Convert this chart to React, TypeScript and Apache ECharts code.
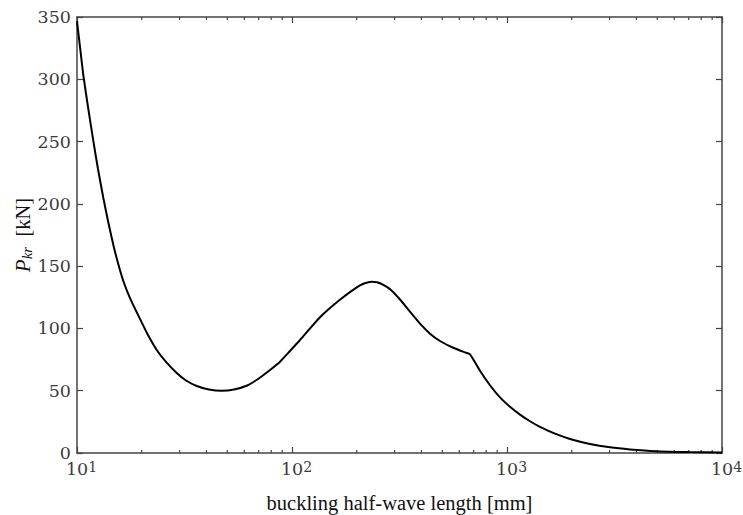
import React, { useEffect, useRef } from "react";
import * as echarts from "echarts";

const curveX = [10, 10.33, 10.7, 11.25, 11.91, 12.52, 13.26, 13.94, 14.76, 15.51, 16.42, 17.64, 19.64, 21.39, 23.49, 25.94, 29.09, 32.14, 36.05, 41.11, 47.1, 53.74, 61.5, 69.49, 79, 88, 97.88, 108.95, 135, 167, 200, 216.2, 235, 248.5, 266, 288.7, 317.9, 353.8, 393.9, 438.5, 488, 543.1, 604.6, 637.9, 672.9, 748.8, 833.4, 927.8, 1032.6, 1149.5, 1279.5, 1424.1, 1672.3, 1963.4, 2432.4, 3013.2, 3733.2, 4932, 7097, 10000];
const curveP = [346.5, 325.9, 303.4, 277.8, 250.5, 228, 204.7, 186.2, 167, 152.5, 138.1, 124.4, 107.6, 94.7, 82.7, 73.1, 64.2, 58.2, 53.8, 51, 50, 51, 54, 59.4, 66.6, 73.3, 81.9, 90.7, 109, 123, 133, 136.1, 137.5, 137.1, 134.9, 130.9, 123.2, 113.4, 103.8, 95.8, 89.9, 85.7, 82.3, 80.8, 79.2, 66, 54.4, 44.6, 37.1, 30.8, 25.5, 21, 15.5, 11.3, 7.3, 4.6, 2.9, 1.45, 0.72, 0.32];
const minorTicks = [20, 30, 40, 50, 60, 70, 80, 90, 200, 300, 400, 500, 600, 700, 800, 900, 2000, 3000, 4000, 5000, 6000, 7000, 8000, 9000];
const yTicks = { min: 0, max: 350, interval: 50 };
const xRange = { min: 10, max: 10000 };
const xTitle = "buckling half-wave length [mm]";

const AX = "#444444";
const LBL = "#3c3c3c";

export default function App() {
  const ref = useRef<HTMLDivElement>(null);
  useEffect(() => {
    const chart = echarts.init(ref.current!, null, { renderer: "svg" });
    const xLabel = {
      margin: 7,
      formatter: (v: number) => `{p|}{b|10}{s|${Math.round(Math.log10(v))}}`,
      rich: {
        p: { width: 9 },
        b: { fontFamily: "DejaVu Serif", fontSize: 17.5, lineHeight: 18, padding: [10, 0, 0, 0], verticalAlign: "bottom", color: LBL },
        s: { fontFamily: "DejaVu Serif", fontSize: 14, lineHeight: 15, verticalAlign: "top", color: LBL },
      },
    };
    const xCommon = {
      type: "log",
      logBase: 10,
      min: xRange.min,
      max: xRange.max,
      axisLine: { show: true, onZero: false, lineStyle: { color: AX, width: 1.5 } },
      axisTick: { show: true, inside: true, length: 6, lineStyle: { color: AX, width: 1.2 } },
      splitLine: { show: false },
      minorTick: { show: false },
    };
    const yCommon = {
      type: "value",
      min: yTicks.min,
      max: yTicks.max,
      interval: yTicks.interval,
      axisLine: { show: true, onZero: false, lineStyle: { color: AX, width: 1.5 } },
      axisTick: { show: true, inside: true, length: 6, lineStyle: { color: AX, width: 1.2 } },
      splitLine: { show: false },
    };
    chart.setOption({
      animation: false,
      backgroundColor: "#ffffff",
      grid: { left: 77, right: 21, top: 17, bottom: 62, containLabel: false, outerBoundsMode: "none" },
      xAxis: [
        {
          ...xCommon,
          position: "bottom",
          axisLabel: xLabel,
          name: xTitle,
          nameLocation: "middle",
          nameGap: 39,
          nameMoveOverlap: false,
          nameTextStyle: { fontFamily: "Liberation Serif", fontSize: 20.5, color: "#111", lineHeight: 22 },
        },
        { ...xCommon, position: "top", axisLabel: { show: false } },
      ],
      yAxis: [
        {
          ...yCommon,
          position: "left",
          axisLabel: { margin: 6, fontFamily: "DejaVu Serif", fontSize: 17.5, color: LBL },
          name: "{p|P}{s|kr}{u|  [kN]}",
          nameLocation: "middle",
          nameRotate: 90,
          nameGap: 43,
          nameMoveOverlap: false,
          nameTextStyle: {
            rich: {
              p: { fontFamily: "Liberation Serif", fontStyle: "italic", fontSize: 21, lineHeight: 22, padding: [0, 0, 4, 0], verticalAlign: "top", color: "#111" },
              s: { fontFamily: "Liberation Serif", fontStyle: "italic", fontSize: 15, lineHeight: 16, verticalAlign: "bottom", color: "#111" },
              u: { fontFamily: "Liberation Serif", fontSize: 20.5, lineHeight: 22, padding: [0, 0, 4, 0], verticalAlign: "top", color: "#111" },
            },
          },
        },
        { ...yCommon, position: "right", axisLabel: { show: false } },
      ],
      series: [
        {
          type: "line",
          data: curveX.map((x, i) => [x, curveP[i]]),
          showSymbol: false,
          smooth: 0.2,
          lineStyle: { color: "#000", width: 2 },
          z: 3,
        },
        {
          type: "custom",
          data: minorTicks.map((v) => [v, 0]),
          encode: { x: 0, y: 1 },
          clip: false,
          silent: true,
          renderItem: (params: any, api: any) => {
            const x = api.value(0);
            const b = api.coord([x, yTicks.min]);
            const t = api.coord([x, yTicks.max]);
            const st = { stroke: AX, lineWidth: 1.2 };
            return {
              type: "group",
              children: [
                { type: "line", shape: { x1: b[0], y1: b[1], x2: b[0], y2: b[1] - 3 }, style: st },
                { type: "line", shape: { x1: t[0], y1: t[1], x2: t[0], y2: t[1] + 3 }, style: st },
              ],
            };
          },
        },
      ],
    });
    return () => chart.dispose();
  }, []);
  return <div ref={ref} style={{ width: 743, height: 515, position: "absolute", left: 0, top: 0 }} />;
}
